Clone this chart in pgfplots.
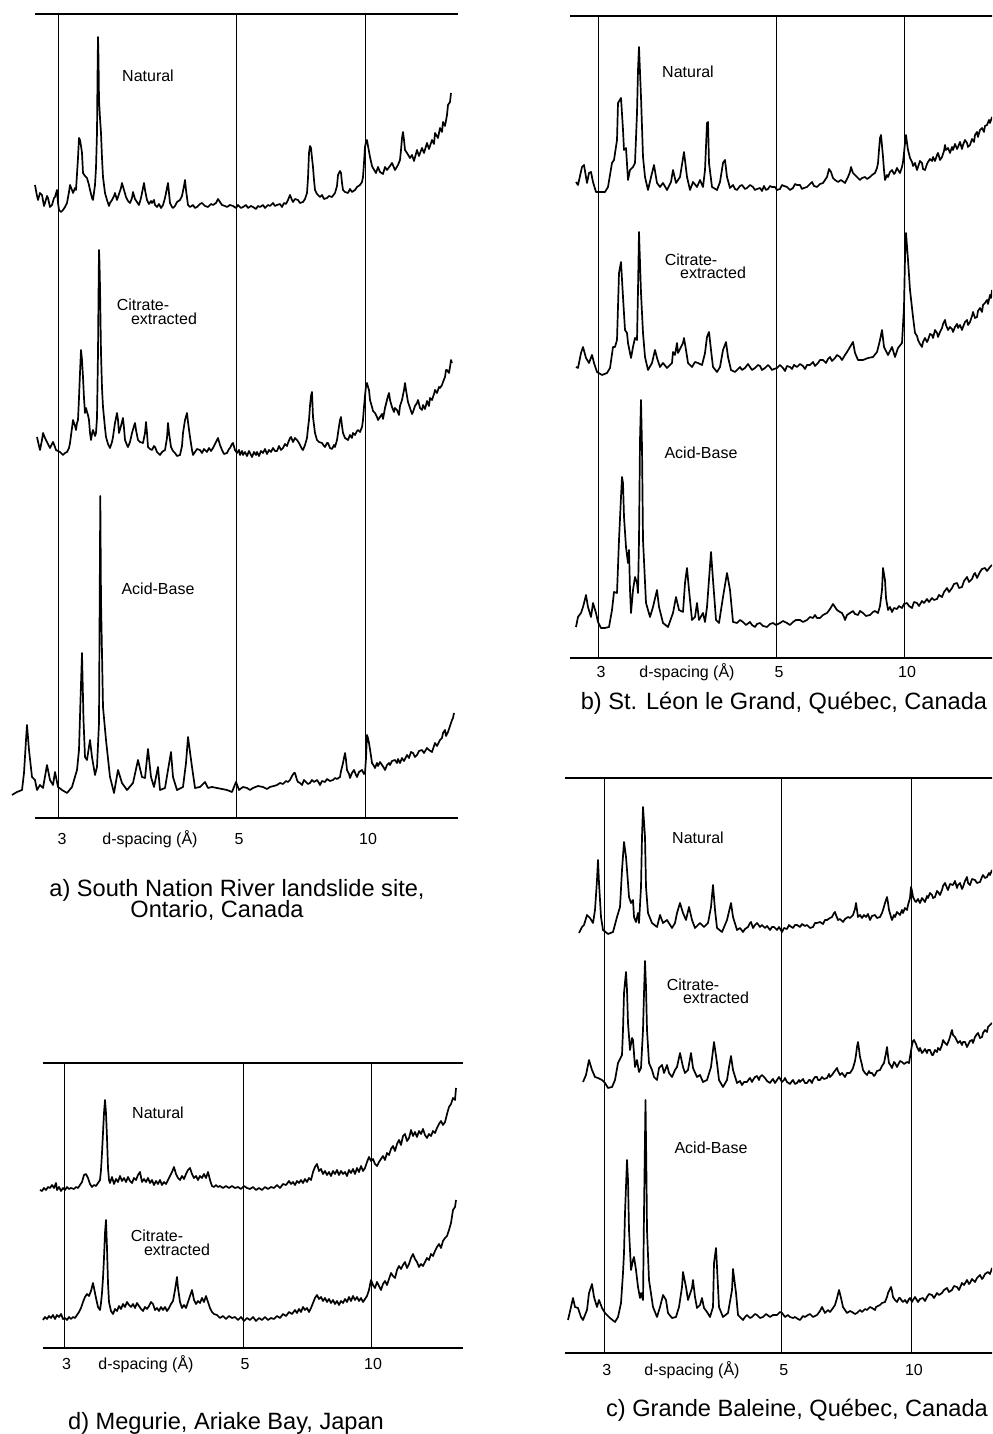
\documentclass[border=0pt]{standalone}
\usepackage{fontspec}
\setmainfont{Liberation Sans}
\usepackage{pgfplots}
\pgfplotsset{compat=1.18}
\pgfplotsset{
  xrdpanel/.style={
    anchor=south west, x=0.5pt, y=0.5pt,
    axis x line*=box, axis y line=none,
    ytick=\empty, ymin=0,
    xmajorgrids, grid style={black, line width=0.5pt},
    major tick length=0pt,
    axis line style={black, line width=0.8pt},
    clip=false,
    xticklabels={3,5,10},
    xticklabel style={font=\fontsize{8}{9.6}\selectfont, anchor=center},
    /pgf/number format/assume math mode=true,
  },
  trace/.style={black, line width=0.85pt, line join=round, mark=none},
}
\newcommand{\labf}{\fontsize{8}{9.6}\selectfont}
\newcommand{\capf}{\fontsize{11.8}{14}\selectfont}
\begin{document}
\begin{tikzpicture}[x=0.5pt,y=0.5pt]
\useasboundingbox (0,0) rectangle (992,1434);
\clip (0,0) rectangle (992,1434);

% ---------------- panel a ----------------
\begin{axis}[xrdpanel, at={(35,616)}, xmin=35, xmax=458, ymax=804,
  xtick={59,236,365}, xticklabel style={yshift=-10.5pt, xshift=1.5pt}]
\addplot[trace] coordinates {(35,633) (37,622) (38,618) (40,625) (42,623) (44,612) (45,615) (47,622) (48,620) (50,611) (52,613) (54,620) (55,621) (57,628) (58,615) (59,608) (61,606) (63,608) (65,611) (67,615) (69,626) (70,633) (72,628) (73,625) (75,630) (76,628) (78,660) (79,680) (80,678) (81,672) (82,665) (83,645) (85,642) (87,640) (89,633) (90,628) (92,620) (93,618) (95,633) (96,650) (97,685) (97.5,740) (98,781) (98.5,760) (99,718) (100,700) (101,685) (102,660) (103,641) (105,625) (107,618) (109,612) (110,615) (112,618) (114,622) (115,625) (117,618) (119,624) (121,630) (122,635) (124,628) (126,621) (128,617) (130,615) (132,620) (133,626) (135,619) (137,616) (139,613) (141,620) (143,630) (144,635) (145,628) (147,618) (149,614) (151,617) (152,615) (154,618) (155,613) (157,611) (159,614) (161,610) (163,613) (165,620) (167,630) (168,635) (169,625) (170,615) (172,611) (173,610) (175,612) (177,616) (180,618) (182,622) (184,632) (185,638) (186,628) (188,613) (190,611) (193,613) (195,610) (197,611) (200,614) (202,615) (205,612) (208,611) (211,614) (213,613) (216,615) (218,619) (220,616) (222,613) (225,612) (227,611) (230,613) (233,612) (236,610) (238,613) (241,610) (243,611) (246,613) (248,610) (251,612) (253,611) (256,609) (258,612) (260,611) (263,613) (265,610) (268,613) (270,612) (273,615) (275,612) (277,613) (280,614) (282,611) (284,615) (286,614) (288,618) (290,623) (292,618) (293,616) (295,619) (298,618) (300,615) (303,616) (305,619) (307,625) (308,640) (309,665) (310,672) (311,670) (312,660) (313,651) (314,638) (315,628) (317,624) (320,621) (322,623) (324,619) (327,620) (329,622) (332,621) (335,625) (337,632) (338,643) (340,647) (341,645) (342,635) (343,628) (345,626) (348,625) (350,629) (352,626) (355,628) (357,631) (360,633) (362,636) (363,641) (364,655) (365,671) (366,676) (367,678) (368,672) (370,661) (372,652) (373,650) (376,645) (378,651) (380,646) (383,644) (385,651) (387,648) (390,652) (392,655) (395,648) (398,653) (400,658) (401,668) (402,680) (403,686) (404,678) (405,668) (407,665) (410,660) (412,663) (414,657) (417,668) (419,662) (422,670) (424,665) (427,675) (429,669) (432,678) (434,674) (435,685) (438,680) (440,690) (442,686) (443,696) (445,692) (447,703) (448,713) (450,716) (451,725)};
\addplot[trace] coordinates {(37,381) (39,372) (40,368) (42,378) (43,385) (45,380) (47,376) (49,372) (50,370) (52,374) (53,376) (55,371) (56,368) (58,367) (60,366) (62,364) (63,363) (65,365) (67,366) (69,370) (70,375) (72,390) (73,398) (75,392) (76,388) (77,395) (78,398) (79,420) (80,445) (81,468) (82,458) (83,441) (84,420) (85,405) (86,410) (87,406) (88,403) (89,398) (90,385) (91,378) (92,384) (93,388) (95,382) (96,385) (97,400) (98,465) (98.5,520) (99,568) (99.5,555) (100,531) (101,465) (102,430) (103,411) (105,390) (106,381) (108,374) (110,370) (112,376) (113,381) (115,395) (117,405) (118,398) (119,385) (121,392) (123,400) (124,390) (125,378) (127,373) (128,371) (130,376) (132,385) (134,392) (135,395) (136,388) (138,378) (140,376) (143,375) (145,385) (146,396) (147,385) (148,371) (150,369) (152,368) (154,372) (155,371) (157,366) (160,363) (162,366) (165,368) (167,380) (168,395) (169,385) (171,371) (173,367) (175,365) (177,362) (180,363) (182,372) (183,385) (185,398) (187,405) (188,396) (190,381) (192,368) (193,363) (195,366) (197,369) (200,368) (202,365) (204,369) (207,366) (209,370) (211,367) (213,370) (215,374) (217,378) (218,380) (220,373) (222,368) (224,364) (227,365) (229,369) (230,370) (232,374) (233,375) (235,368) (237,365) (239,368) (240,363) (242,367) (243,363) (245,366) (247,362) (249,367) (250,365) (252,361) (254,366) (256,363) (257,366) (259,362) (261,367) (263,365) (265,369) (267,364) (269,368) (271,366) (273,370) (275,367) (277,367) (279,372) (281,368) (283,370) (285,374) (287,372) (288,375) (290,380) (291,381) (293,376) (295,380) (297,378) (299,375) (300,373) (302,369) (303,368) (305,373) (307,380) (308,390) (309,398) (310,412) (311,422) (312,426) (313,401) (315,385) (317,378) (319,376) (322,375) (324,372) (325,371) (327,375) (328,375) (330,370) (332,369) (334,373) (335,371) (337,378) (338,385) (340,398) (341,401) (342,392) (343,385) (345,380) (348,378) (350,383) (352,380) (353,385) (355,383) (357,387) (358,388) (360,386) (362,391) (363,398) (364,411) (365,422) (366,432) (367,435) (368,431) (369,428) (370,418) (372,411) (373,407) (375,405) (377,401) (378,398) (380,401) (382,404) (383,399) (385,410) (387,418) (388,422) (389,425) (390,418) (392,411) (394,406) (395,410) (397,408) (399,403) (400,412) (402,418) (404,428) (405,435) (406,428) (408,416) (410,410) (412,404) (413,406) (415,412) (417,415) (418,418) (420,410) (422,408) (423,413) (425,409) (427,417) (429,412) (430,420) (432,418) (434,424) (435,428) (437,425) (439,431) (440,430) (442,433) (443,436) (445,441) (446,448) (447,448) (449,445) (450,451) (451,458) (452,455)};
\addplot[trace] coordinates {(12,23) (17,26) (22,28) (24,45) (26,78) (27,93) (29,68) (32,41) (35,38) (37,28) (40,33) (43,30) (47,53) (50,38) (53,33) (55,46) (58,31) (62,28) (67,25) (72,31) (77,48) (79,68) (80.5,118) (82,165) (83.5,98) (85,61) (87,58) (90,78) (92,61) (95,43) (97,51) (99,95) (99.7,218) (100.3,322) (101,218) (103,111) (106,78) (110,41) (114,25) (118,48) (122,35) (127,28) (133,35) (138,58) (142,41) (145,40) (148,69) (151,41) (154,31) (158,51) (160,28) (165,30) (168,48) (171,66) (173,41) (177,28) (183,31) (186,55) (188,81) (192,51) (195,30) (200,31) (205,36) (208,30) (212,31) (217,30) (222,29) (227,28) (232,26) (236,36) (239,28) (243,31) (247,30) (250,28) (253,30) (258,32) (263,31) (267,29) (270,31) (274,32) (277,33) (280,35) (283,34) (286,37) (288,36) (290,38) (292,42) (294,45) (295,45) (297,38) (298,36) (300,35) (302,33) (304,38) (306,36) (308,34) (310,35) (312,38) (314,36) (317,38) (319,35) (320,33) (322,37) (325,36) (327,39) (330,37) (333,38) (335,40) (337,39) (340,41) (341,47) (343,55) (345,65) (346,58) (347,48) (349,44) (350,40) (352,45) (354,48) (356,43) (357,41) (359,46) (362,48) (364,44) (365,45) (366,60) (367,83) (368,80) (369,75) (371,62) (372,55) (374,52) (375,50) (377,55) (378,52) (380,56) (382,53) (384,50) (385,48) (387,53) (389,55) (390,53) (392,57) (395,58) (397,55) (398,59) (400,55) (402,60) (404,57) (407,63) (409,60) (411,66) (413,65) (415,61) (417,63) (419,67) (422,68) (424,65) (427,70) (429,68) (432,66) (434,72) (435,75) (437,72) (440,78) (442,80) (443,85) (445,88) (446,82) (448,86) (450,92) (452,98) (453,100) (454,105)};
\node[font=\labf] at (axis cs:150,-21) {d-spacing (Å)};
\end{axis}

% ---------------- panel b ----------------
\begin{axis}[xrdpanel, at={(570,776)}, xmin=570, xmax=1005, ymax=642,
  xtick={598,776,904}, xticklabel style={yshift=-7pt, xshift=1.5pt}]
\addplot[trace] coordinates {(576,476) (578,473) (582,491) (584,493) (587,475) (589,485) (591,486) (593,476) (596,466) (600,466) (605,466) (608,471) (612,495) (614,498) (617,518) (618,555) (621,560) (623,528) (624,508) (626,510) (628,478) (630,488) (633,491) (635,495) (637,545) (638,588) (639,611) (641,561) (643,501) (645,481) (648,468) (652,485) (654,493) (657,475) (660,471) (663,475) (667,468) (671,476) (673,488) (676,475) (680,481) (684,506) (687,481) (690,468) (693,476) (697,471) (700,478) (703,471) (705,488) (707,535) (708,536) (709,495) (712,471) (717,468) (720,476) (723,495) (725,498) (727,481) (730,470) (733,473) (735,469) (737,468) (740,472) (742,473) (745,469) (747,470) (750,473) (753,471) (755,468) (757,469) (760,470) (762,467) (764,472) (766,468) (768,469) (770,472) (772,471) (775,471) (777,468) (780,469) (782,473) (784,472) (787,471) (790,468) (793,470) (795,474) (797,473) (800,473) (802,469) (804,470) (807,471) (810,474) (812,476) (814,472) (817,471) (820,474) (823,475) (825,478) (827,481) (829,489) (831,486) (833,480) (835,478) (838,476) (841,478) (845,475) (848,481) (850,486) (851,491) (853,485) (855,483) (857,481) (860,478) (862,480) (865,481) (867,479) (870,481) (872,483) (875,485) (877,490) (878,495) (879,508) (880,520) (881,523) (882,512) (883,501) (884,488) (885,478) (887,483) (888,481) (890,486) (892,488) (894,484) (895,485) (897,490) (898,488) (900,485) (902,491) (903,496) (904,505) (905,515) (906,523) (907,515) (908,508) (910,500) (912,496) (913,492) (915,495) (917,488) (918,491) (920,497) (922,495) (923,489) (925,488) (927,494) (928,496) (930,499) (932,497) (933,501) (935,497) (937,503) (938,505) (940,498) (942,501) (944,507) (945,513) (946,508) (948,510) (950,505) (952,511) (953,508) (955,514) (957,509) (958,511) (960,516) (962,509) (963,513) (965,518) (967,515) (968,511) (970,513) (972,519) (974,516) (975,523) (977,526) (978,521) (980,528) (982,530) (984,526) (985,532) (987,533) (989,538) (990,535) (992,541)};
\addplot[trace] coordinates {(576,291) (578,290) (581,305) (583,311) (586,300) (589,295) (592,303) (594,295) (597,286) (602,283) (607,285) (610,290) (613,311) (615,311) (617,318) (619,385) (621,396) (623,361) (625,328) (627,325) (628,315) (631,300) (633,311) (635,320) (637,318) (638,368) (639,426) (641,365) (643,325) (645,301) (648,288) (652,295) (655,308) (657,300) (660,291) (663,295) (667,290) (672,295) (673,306) (675,303) (677,315) (678,305) (681,311) (683,315) (684,320) (686,308) (688,295) (692,291) (695,296) (698,295) (702,293) (705,305) (707,321) (709,326) (711,308) (713,291) (717,286) (720,291) (723,308) (726,316) (728,301) (731,288) (735,286) (740,291) (742,288) (745,290) (748,294) (750,291) (752,288) (755,290) (758,293) (760,292) (762,288) (765,290) (768,293) (770,291) (772,288) (774,289) (777,290) (780,293) (783,290) (785,287) (787,292) (790,291) (792,289) (794,293) (797,291) (800,294) (803,292) (805,289) (807,293) (810,293) (813,296) (815,292) (818,295) (820,298) (823,298) (826,295) (828,299) (830,301) (832,297) (835,300) (837,303) (840,301) (842,298) (845,303) (847,306) (850,311) (853,316) (855,305) (858,298) (863,298) (868,300) (873,301) (877,306) (880,318) (882,328) (884,311) (888,303) (892,311) (895,301) (898,310) (902,315) (904,351) (905,401) (906,425) (908,398) (910,368) (913,341) (915,325) (917,322) (918,318) (920,314) (922,311) (923,316) (925,320) (927,316) (928,318) (930,324) (932,323) (933,320) (935,328) (937,325) (938,321) (940,326) (942,330) (943,334) (945,338) (946,333) (948,328) (950,331) (952,329) (953,326) (955,331) (957,334) (958,330) (960,333) (962,328) (963,331) (965,336) (967,338) (968,333) (970,336) (972,342) (973,346) (975,340) (977,341) (978,347) (980,350) (982,346) (983,353) (985,355) (987,358) (988,354) (990,363) (991,360) (992,368)};
\addplot[trace] coordinates {(576,31) (578,41) (581,45) (583,51) (586,63) (588,51) (591,41) (593,55) (596,45) (598,36) (601,30) (605,30) (609,31) (612,48) (614,66) (617,65) (619,118) (621,161) (622,181) (623,175) (624,141) (626,111) (628,95) (629,108) (630,68) (631,45) (633,68) (635,81) (637,75) (638,65) (639,118) (640,218) (641,258) (642,211) (643,118) (646,55) (650,41) (653,51) (657,68) (659,51) (663,35) (668,31) (673,45) (676,61) (679,48) (683,46) (685,75) (687,90) (689,68) (692,38) (695,41) (697,55) (699,38) (703,45) (705,36) (707,51) (711,106) (713,78) (716,38) (719,35) (723,61) (727,85) (730,68) (733,36) (737,35) (740,38) (743,36) (746,33) (750,36) (752,33) (755,31) (757,34) (760,35) (763,32) (767,31) (770,34) (773,35) (776,33) (780,35) (783,37) (787,35) (790,33) (793,36) (796,38) (800,38) (803,36) (807,38) (810,41) (813,40) (815,43) (817,40) (820,40) (823,43) (827,45) (830,49) (833,54) (835,51) (837,48) (840,46) (842,45) (844,41) (845,38) (847,43) (850,45) (853,47) (855,44) (858,43) (860,47) (863,45) (866,42) (870,43) (873,46) (875,47) (878,45) (880,52) (882,68) (883,90) (884,84) (885,78) (886,60) (888,48) (890,51) (892,46) (894,50) (897,49) (899,52) (902,50) (904,54) (907,55) (909,52) (912,50) (914,56) (917,55) (919,52) (922,57) (924,55) (927,59) (929,56) (932,60) (934,58) (937,59) (939,63) (942,61) (944,66) (947,70) (949,66) (952,70) (954,74) (957,75) (959,70) (962,71) (964,77) (967,81) (969,76) (972,79) (974,84) (975,85) (977,80) (980,86) (982,89) (985,90) (987,87) (990,91) (992,93)};
\node[font=\labf] at (axis cs:687,-14) {d-spacing (Å)};
\end{axis}

% ---------------- panel c ----------------
\begin{axis}[xrdpanel, at={(565,81)}, xmin=565, xmax=1005, ymax=575,
  xtick={604.5,781.5,911.5}, xticklabel style={yshift=-8.5pt, xshift=1.2pt}]
\addplot[trace] coordinates {(579,420) (582,426) (584,428) (587,438) (590,435) (593,430) (595,443) (597,473) (598,493) (599,470) (601,436) (603,423) (608,419) (613,421) (617,436) (620,446) (622,483) (624,511) (626,496) (628,470) (629,456) (631,450) (633,453) (634,436) (636,431) (638,440) (639,430) (641,466) (642,516) (643,546) (645,516) (646,466) (648,440) (652,430) (657,426) (660,438) (663,430) (667,433) (672,425) (675,430) (677,440) (680,450) (683,440) (686,433) (689,446) (692,433) (695,425) (700,430) (704,426) (708,430) (711,446) (713,468) (715,443) (717,425) (722,421) (727,433) (731,450) (733,436) (737,423) (740,425) (743,421) (745,424) (748,426) (750,430) (751,431) (753,425) (755,428) (757,430) (760,426) (762,428) (765,425) (767,427) (770,423) (772,426) (774,426) (777,423) (779,426) (782,421) (784,425) (787,424) (789,428) (790,427) (793,425) (795,428) (797,428) (800,426) (802,429) (805,427) (807,428) (810,425) (813,426) (815,430) (817,430) (820,431) (823,429) (825,433) (827,433) (830,435) (832,436) (834,440) (835,441) (836,438) (838,433) (840,434) (843,431) (845,434) (848,436) (850,435) (853,438) (855,444) (856,450) (857,443) (858,436) (860,438) (862,435) (864,438) (866,436) (868,439) (870,433) (872,437) (875,438) (877,435) (880,436) (882,440) (883,443) (885,450) (887,456) (888,450) (889,443) (891,436) (892,433) (894,438) (895,436) (897,441) (898,440) (900,438) (902,443) (903,440) (905,445) (907,443) (908,448) (910,455) (911,466) (912,462) (913,456) (915,452) (916,451) (918,454) (920,450) (922,455) (925,451) (927,457) (928,455) (930,460) (932,458) (933,455) (935,456) (937,462) (938,461) (940,458) (942,463) (943,467) (945,470) (947,465) (948,463) (950,469) (953,468) (955,472) (957,465) (958,468) (960,470) (962,464) (963,466) (965,472) (967,476) (968,470) (970,468) (972,474) (975,473) (977,470) (980,471) (982,476) (983,478) (985,475) (987,476) (989,480) (990,478) (992,483)};
\addplot[trace] coordinates {(583,271) (586,278) (589,293) (592,283) (595,276) (598,275) (602,273) (605,270) (608,265) (612,266) (615,273) (618,290) (622,298) (623,323) (624,360) (626,381) (627,363) (628,330) (630,303) (632,315) (633,313) (635,286) (637,293) (639,281) (641,285) (643,323) (644,360) (645,392) (646,366) (647,323) (649,290) (652,283) (654,276) (657,273) (659,285) (662,288) (664,280) (667,288) (669,280) (672,276) (675,283) (677,286) (680,300) (683,286) (685,280) (688,283) (691,300) (693,285) (697,276) (700,278) (703,271) (707,273) (711,286) (714,311) (717,290) (719,273) (723,266) (727,273) (729,286) (731,297) (733,283) (737,270) (740,272) (742,268) (744,271) (747,271) (749,274) (750,275) (752,271) (753,273) (755,276) (757,277) (759,273) (760,276) (762,278) (765,275) (767,272) (770,270) (772,273) (773,274) (775,270) (777,273) (779,276) (782,271) (784,273) (785,275) (787,271) (790,269) (792,272) (793,273) (795,269) (797,270) (799,273) (800,271) (803,274) (805,270) (807,270) (809,273) (810,273) (812,270) (813,273) (815,276) (817,276) (818,273) (820,273) (822,276) (824,274) (827,275) (829,279) (830,276) (832,278) (834,281) (837,285) (838,282) (840,278) (842,280) (845,276) (847,280) (850,280) (852,283) (853,285) (855,292) (856,298) (857,306) (858,311) (859,304) (860,296) (862,288) (863,283) (865,280) (867,278) (869,282) (870,280) (872,280) (874,277) (875,278) (877,282) (880,283) (882,287) (884,290) (886,300) (887,306) (888,297) (889,290) (891,287) (892,285) (894,291) (895,290) (897,286) (898,288) (900,292) (902,291) (904,289) (907,291) (909,290) (911,302) (912,308) (913,312) (914,313) (916,309) (917,306) (919,302) (920,305) (922,300) (923,301) (925,304) (927,300) (928,303) (930,303) (932,298) (933,298) (935,303) (937,301) (938,305) (940,303) (942,308) (943,313) (945,310) (947,308) (949,313) (950,316) (951,320) (952,323) (953,318) (955,316) (957,312) (958,310) (960,312) (962,308) (963,311) (965,311) (967,306) (968,308) (970,312) (972,313) (973,310) (975,316) (977,319) (978,320) (980,315) (982,316) (983,320) (985,323) (987,321) (988,326) (990,328) (992,330)};
\addplot[trace] coordinates {(568,33) (571,46) (573,55) (575,46) (578,45) (581,36) (583,33) (587,43) (589,60) (592,69) (594,56) (597,46) (599,53) (602,45) (605,40) (610,35) (615,31) (618,36) (621,50) (623,80) (624,100) (625,140) (627,193) (628,173) (629,123) (631,83) (633,93) (634,96) (636,83) (638,66) (640,55) (641,60) (643,53) (644,140) (645.5,253) (646.5,173) (647,123) (649,73) (653,46) (657,36) (660,46) (663,58) (666,53) (668,40) (672,35) (676,36) (679,46) (682,66) (683,81) (686,66) (688,53) (692,65) (693,73) (695,56) (697,45) (700,48) (702,55) (704,45) (707,41) (710,36) (713,46) (714,90) (716,105) (717,86) (719,46) (723,36) (728,40) (732,63) (733,84) (736,60) (738,38) (743,33) (745,36) (747,38) (750,35) (752,36) (755,39) (757,38) (760,35) (763,36) (766,39) (770,36) (773,38) (777,38) (780,41) (782,40) (785,36) (788,38) (790,36) (793,35) (795,36) (798,34) (800,33) (803,37) (805,36) (808,38) (810,39) (813,36) (817,38) (820,42) (822,46) (824,42) (825,40) (828,43) (830,41) (833,45) (835,48) (837,55) (839,63) (841,55) (843,46) (845,43) (847,40) (850,42) (852,41) (855,39) (857,40) (860,43) (862,41) (865,44) (867,43) (870,46) (872,45) (875,43) (876,46) (878,47) (880,48) (882,50) (885,51) (887,56) (888,60) (890,64) (891,66) (892,62) (893,56) (895,53) (897,51) (899,55) (900,55) (902,52) (903,51) (905,53) (907,50) (909,54) (910,55) (912,51) (913,53) (915,56) (918,51) (920,54) (923,55) (925,52) (927,56) (929,59) (932,58) (934,55) (937,60) (939,58) (942,60) (944,63) (947,65) (949,61) (952,63) (954,67) (957,66) (959,63) (962,70) (964,68) (967,73) (969,69) (970,70) (972,74) (975,71) (977,75) (980,78) (982,74) (983,75) (985,79) (988,81) (990,79) (992,85)};
\node[font=\labf] at (axis cs:692,-17) {d-spacing (Å)};
\end{axis}

% ---------------- panel d ----------------
\begin{axis}[xrdpanel, at={(43,86)}, xmin=43, xmax=463, ymax=285,
  xtick={64.5,243,371}, xticklabel style={yshift=-8pt, xshift=1pt}]
\addplot[trace] coordinates {(40,158) (42,157) (44,160) (46,158) (48,161) (50,160) (52,163) (54,160) (56,165) (57,158) (59,161) (61,157) (63,160) (65,158) (67,161) (69,159) (71,160) (74,159) (76,161) (78,160) (80,163) (82,166) (84,173) (86,174) (88,170) (90,164) (92,161) (94,163) (96,162) (98,165) (100,168) (101,178) (102,195) (103,215) (104,235) (105,248) (106,235) (107,210) (108,180) (109,168) (110,165) (112,171) (114,164) (116,169) (118,166) (120,172) (122,167) (124,170) (126,166) (128,171) (130,167) (132,165) (134,170) (136,168) (138,173) (140,176) (142,166) (144,169) (146,166) (148,170) (150,165) (152,168) (154,163) (156,167) (158,164) (160,168) (162,163) (164,166) (166,164) (168,168) (170,172) (172,176) (174,181) (176,174) (178,170) (180,168) (182,172) (184,169) (186,174) (188,178) (190,180) (192,174) (194,170) (196,172) (198,168) (200,172) (202,170) (204,174) (206,170) (208,176) (210,168) (212,162) (214,161) (216,163) (218,161) (220,162) (223,160) (226,162) (229,160) (232,162) (235,160) (238,161) (241,159) (244,162) (247,160) (250,159) (253,161) (256,158) (259,160) (262,158) (265,161) (268,159) (271,161) (274,160) (277,163) (280,160) (283,164) (286,163) (289,167) (291,164) (293,166) (295,163) (297,167) (299,165) (301,168) (303,165) (305,169) (307,166) (309,170) (311,168) (313,176) (315,181) (317,184) (319,177) (321,179) (323,174) (325,177) (327,173) (329,176) (331,172) (333,177) (335,174) (337,178) (339,173) (341,177) (343,174) (345,176) (347,172) (349,178) (351,175) (353,179) (355,174) (357,180) (359,176) (361,182) (363,177) (365,180) (367,186) (369,191) (371,187) (373,189) (375,184) (377,182) (379,186) (381,189) (383,192) (385,188) (387,195) (389,193) (391,199) (393,202) (395,197) (397,204) (399,208) (401,203) (403,212) (405,214) (407,207) (409,210) (411,218) (413,212) (415,216) (417,211) (419,217) (421,214) (423,219) (425,213) (427,210) (429,214) (431,212) (433,217) (435,215) (437,220) (439,224) (441,227) (443,223) (445,226) (447,234) (449,241) (451,244) (453,250) (455,248) (456,260)};
\addplot[trace] coordinates {(43,28) (45,31) (47,29) (49,32) (51,30) (53,33) (55,29) (57,33) (59,31) (61,34) (63,29) (65,30) (67,28) (69,31) (71,29) (73,31) (75,30) (77,33) (79,36) (81,40) (83,46) (85,51) (87,54) (89,52) (91,57) (93,65) (94,60) (96,50) (98,41) (100,38) (101,45) (102,55) (103,70) (104,90) (105,115) (106,128) (107,100) (108,65) (109,46) (111,37) (113,34) (115,39) (117,37) (119,42) (121,39) (123,44) (125,41) (127,46) (129,43) (131,41) (133,44) (135,40) (137,45) (139,42) (141,39) (143,37) (145,41) (147,39) (149,42) (151,46) (153,44) (155,38) (157,40) (159,37) (161,41) (163,38) (165,41) (167,37) (169,40) (171,44) (173,47) (175,58) (177,71) (178,60) (180,46) (182,40) (184,43) (186,40) (188,46) (190,52) (192,58) (194,48) (196,44) (198,47) (200,45) (202,50) (204,46) (206,52) (208,46) (210,40) (212,36) (214,34) (217,33) (220,30) (223,32) (226,29) (229,32) (232,30) (235,31) (238,28) (241,31) (244,27) (247,30) (250,28) (253,31) (256,27) (259,30) (262,28) (265,31) (268,28) (271,30) (274,29) (277,32) (280,30) (283,34) (286,32) (289,36) (292,34) (295,38) (297,35) (299,39) (301,36) (303,41) (305,38) (307,40) (309,36) (311,40) (313,45) (315,50) (317,53) (319,49) (321,51) (323,47) (325,50) (327,46) (329,49) (331,45) (333,48) (335,44) (337,47) (339,43) (341,47) (343,45) (345,49) (347,46) (349,51) (351,47) (353,52) (355,48) (357,51) (359,47) (361,50) (363,46) (365,49) (367,52) (369,58) (371,68) (373,63) (375,60) (377,66) (379,62) (381,58) (383,64) (385,67) (387,63) (389,69) (391,75) (393,72) (395,70) (397,78) (399,82) (401,79) (403,83) (405,86) (407,80) (409,84) (411,90) (413,94) (415,89) (417,86) (419,81) (421,84) (423,82) (425,86) (427,90) (429,88) (431,94) (433,92) (435,97) (437,101) (439,104) (441,100) (443,107) (445,110) (447,112) (449,118) (451,125) (453,138) (455,141) (456,148)};
\node[font=\labf] at (axis cs:146,-16) {d-spacing (Å)};
\end{axis}

% ---------------- text ----------------
\node[font=\labf] at (148,1358) {Natural};
\node[font=\labf] at (143,1129) {Citrate-};
\node[font=\labf] at (164,1115) {extracted};
\node[font=\labf] at (158,845) {Acid-Base};
\node[font=\capf] at (237,544) {a) South Nation River landslide site,};
\node[font=\capf] at (217,524) {Ontario, Canada};

\node[font=\labf] at (688,1362) {Natural};
\node[font=\labf] at (691,1174) {Citrate-};
\node[font=\labf] at (713,1161) {extracted};
\node[font=\labf] at (701,981) {Acid-Base};
\node[font=\capf] at (784,731) {b) St. Léon le Grand, Québec, Canada};

\node[font=\labf] at (698,596) {Natural};
\node[font=\labf] at (693,449) {Citrate-};
\node[font=\labf] at (716,436) {extracted};
\node[font=\labf] at (711,286) {Acid-Base};
\node[font=\capf] at (797,24) {c) Grande Baleine, Québec, Canada};

\node[font=\labf] at (158,321) {Natural};
\node[font=\labf] at (157,198) {Citrate-};
\node[font=\labf] at (177,184) {extracted};
\node[font=\capf] at (226,11) {d) Megurie, Ariake Bay, Japan};
\end{tikzpicture}
\end{document}
